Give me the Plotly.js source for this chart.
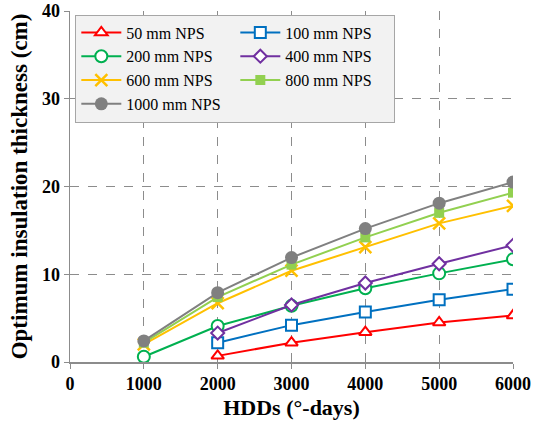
<!DOCTYPE html>
<html>
<head>
<meta charset="utf-8">
<script src="https://cdn.plot.ly/plotly-3.0.1.min.js"></script>
<style>html,body{margin:0;padding:0;background:#fff;}#chart{width:540px;height:427px;}</style>
</head>
<body>
<div id="chart"></div>
<script>
const hdds = [1000, 2000, 3000, 4000, 5000, 6000];
const names = ["50 mm NPS", "100 mm NPS", "200 mm NPS", "400 mm NPS", "600 mm NPS", "800 mm NPS", "1000 mm NPS"];
const nps50   = [null, 0.7, 2.2, 3.4, 4.5, 5.3];
const nps100  = [null, 2.2, 4.2, 5.7, 7.1, 8.3];
const nps200  = [0.6, 4.1, 6.4, 8.4, 10.1, 11.7];
const nps400  = [null, 3.3, 6.5, 9.0, 11.2, 13.3];
const nps600  = [2.0, 6.7, 10.4, 13.1, 15.8, 17.8];
const nps800  = [2.2, 7.4, 11.1, 14.2, 17.0, 19.3];
const nps1000 = [2.4, 7.9, 11.9, 15.2, 18.1, 20.5];
const xTicks = [0, 1000, 2000, 3000, 4000, 5000, 6000];
const yTicks = [0, 10, 20, 30, 40];

const series = [nps50, nps100, nps200, nps400, nps600, nps800, nps1000];
const colors = ["#ff0000", "#0070c0", "#00b050", "#7030a0", "#ffc000", "#92d050", "#808080"];
const symbols = ["triangle-up", "square", "circle", "diamond", "x-thin", "square", "circle"];
const fills = ["#ffffff", "#ffffff", "#ffffff", "#ffffff", "#ffc000", "#92d050", "#808080"];
const sizes = [11, 11, 12, 10, 12, 10, 13];

const traces = series.map((ys, i) => ({
  x: hdds, y: ys, name: names[i], type: "scatter", mode: "lines+markers",
  connectgaps: false,
  line: {color: colors[i], width: 2},
  marker: {symbol: symbols[i], size: sizes[i], color: fills[i],
           line: {color: colors[i], width: symbols[i] === "x-thin" ? 2.5 : (i >= 5 ? 0 : 2)}}
}));

const layout = {
  width: 540, height: 427,
  margin: {l: 70, r: 27, t: 11, b: 65},
  paper_bgcolor: "#ffffff", plot_bgcolor: "#ffffff",
  font: {family: "Liberation Serif, Times New Roman, serif", color: "#000"},
  showlegend: true,
  legend: {
    x: 0.012, y: 0.99, xanchor: "left", yanchor: "top",
    orientation: "h", entrywidth: 104, entrywidthmode: "pixels",
    bgcolor: "#f2f2f2", bordercolor: "#a6a6a6", borderwidth: 1,
    font: {family: "Liberation Serif", size: 16, color: "#000"},
    tracegroupgap: 0, itemwidth: 40
  },
  xaxis: {
    range: [0, 6000], tickvals: xTicks, ticktext: xTicks.map(String),
    showgrid: true, gridcolor: "#8c8c8c", griddash: "dash", gridwidth: 1,
    showline: true, linecolor: "#8c8c8c", linewidth: 1.5,
    ticks: "outside", ticklen: 5, tickcolor: "#8c8c8c",
    zeroline: false,
    tickfont: {family: "Liberation Serif", size: 18, color: "#000", weight: "bold"},
    title: {text: "<b>HDDs (°-days)</b>", font: {family: "Liberation Serif", size: 22, color: "#000"}, standoff: 6}
  },
  yaxis: {
    range: [0, 40], tickvals: yTicks, ticktext: yTicks.map(String),
    showgrid: true, gridcolor: "#8c8c8c", griddash: "dash", gridwidth: 1,
    showline: true, linecolor: "#8c8c8c", linewidth: 1.5,
    ticks: "outside", ticklen: 5, tickcolor: "#8c8c8c",
    zeroline: false,
    tickfont: {family: "Liberation Serif", size: 18, color: "#000", weight: "bold"},
    title: {text: "<b>Optimum insulation thickness (cm)</b>", font: {family: "Liberation Serif", size: 23, color: "#000"}, standoff: 8}
  },
  xaxis2: {
    overlaying: "x", anchor: "y", side: "bottom", range: [0, 6000], tickvals: xTicks,
    showticklabels: false, showgrid: false, zeroline: false, showline: false,
    ticks: "inside", ticklen: 4, tickcolor: "#8c8c8c"
  },
  yaxis2: {
    overlaying: "y", anchor: "x", side: "left", range: [0, 40], tickvals: yTicks,
    showticklabels: false, showgrid: false, zeroline: false, showline: false,
    ticks: "inside", ticklen: 4, tickcolor: "#8c8c8c"
  }
};

Plotly.newPlot("chart", traces, layout, {displayModeBar: false, staticPlot: true});
</script>
</body>
</html>
